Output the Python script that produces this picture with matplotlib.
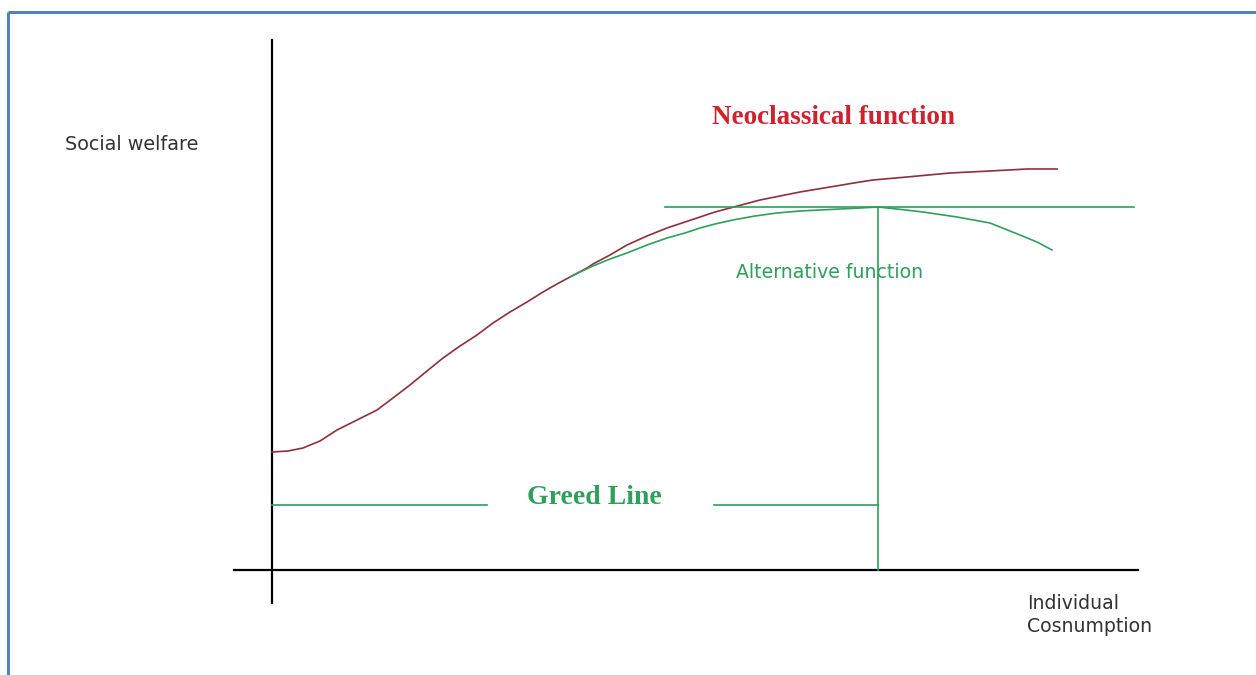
import matplotlib
matplotlib.use("Agg")
import matplotlib.pyplot as plt

# figure is drawn in pixel units (x right, y down), 1256 x 675
W, H = 1256, 675

# neoclassical welfare curve (red)
neo_x = [272, 288, 303, 320, 337, 357, 377, 393, 410, 427, 443, 460, 477, 493, 510,
         527, 543, 557, 570, 587, 593, 610, 627, 647, 667, 685, 700, 715, 730, 745,
         760, 780, 800, 830, 860, 873, 907, 950, 990, 1027, 1057]
neo_y = [452, 451, 448, 441, 430, 420, 410, 398, 385, 371, 358, 346, 335, 323, 312,
         302, 292, 284, 277, 268, 264, 255, 245, 236, 228, 222, 217, 212, 208, 204,
         200, 196, 192, 187, 182, 180, 177, 173, 171, 169, 169]

# alternative welfare curve (green), leaves the red one near x=570
alt_x = [570, 580, 593, 610, 627, 647, 667, 685, 700, 715, 733, 755, 777, 800, 820,
         840, 860, 878, 897, 923, 957, 990, 1020, 1037, 1052]
alt_y = [277, 272, 266, 259, 253, 245, 238, 233, 228, 224, 220, 216, 213, 211, 210,
         209, 208, 207, 209, 212, 217, 223, 235, 242, 250]

# reference lines
peak_y = 207
peak_x = 878
greed_y = 505
greed_gap = (487, 714)

RED = "#8e2f3c"
GREEN = "#2ea05c"
BLUE = "#4f81bd"
GREY = "#333333"

fig = plt.figure(figsize=(W / 100, H / 100), dpi=100)
ax = fig.add_axes([0, 0, 1, 1])
ax.set_xlim(0, W)
ax.set_ylim(H, 0)
ax.axis("off")

# frame (top and left only visible)
ax.plot([7.5, W], [12, 12], color=BLUE, lw=2.2, solid_capstyle="butt")
ax.plot([7.5, 7.5], [12, H], color=BLUE, lw=2.2, solid_capstyle="butt")

# axes
ax.plot([272, 272], [40, 603], color="black", lw=1.6)
ax.plot([234, 1138], [570, 570], color="black", lw=1.6)

# curves
ax.plot(neo_x, neo_y, color=RED, lw=1.2)
ax.plot(alt_x, alt_y, color=GREEN, lw=1.2)

# tangent at maximum and drop line
ax.plot([665, 1134], [peak_y, peak_y], color=GREEN, lw=1.2)
ax.plot([peak_x, peak_x], [peak_y, 570], color=GREEN, lw=1.2)

# greed line, with gap for its label
ax.plot([272, greed_gap[0]], [greed_y, greed_y], color=GREEN, lw=1.2)
ax.plot([greed_gap[1], peak_x], [greed_y, greed_y], color=GREEN, lw=1.2)

serif = ["Liberation Serif", "DejaVu Serif"]
sans = ["DejaVu Sans"]

ax.text(594, 497, "Greed Line", color=GREEN, fontsize=20, fontweight="bold",
        family=serif, ha="center", va="center")
ax.text(833, 118, "Neoclassical function", color="#d0222e", fontsize=19.5,
        fontweight="bold", family=serif, ha="center", va="center")
ax.text(65, 145, "Social welfare", color=GREY, fontsize=13.8, family=sans,
        ha="left", va="center")
ax.text(736, 273, "Alternative function", color=GREEN, fontsize=13.6, family=sans,
        ha="left", va="center")
ax.text(1027, 615, "Individual\nCosnumption", color=GREY, fontsize=13.6, family=sans,
        ha="left", va="center", linespacing=1.25)

fig.savefig("out.png", dpi=100)
